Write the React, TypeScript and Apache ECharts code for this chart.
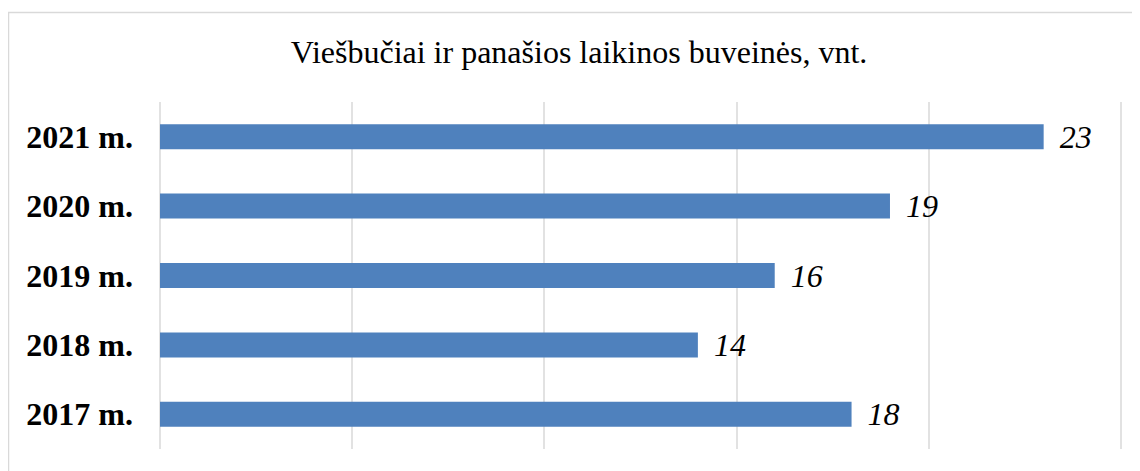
import React, { useEffect, useRef } from "react";
import * as echarts from "echarts";

const titleText = "Viešbučiai ir panašios laikinos buveinės, vnt.";
const categories = ["2017 m.", "2018 m.", "2019 m.", "2020 m.", "2021 m."];
const values = [18, 14, 16, 19, 23];
const axisMin = 0;
const axisMax = 25;
const axisStep = 5;

export default function App() {
  const ref = useRef<HTMLDivElement>(null);
  useEffect(() => {
    document.body.style.overflow = "hidden";
    const chart = echarts.init(ref.current!, null, { renderer: "svg" });
    chart.setOption({
      animation: false,
      backgroundColor: "#ffffff",
      graphic: [
        {
          type: "rect",
          shape: { x: 0.5, y: 4.5, width: 1300, height: 700 },
          style: { fill: "none", stroke: "#d9d9d9", lineWidth: 1.5 },
          silent: true,
        },
        {
          type: "text",
          x: 571,
          y: 43.5,
          style: {
            text: titleText,
            fontFamily: "Liberation Serif",
            fontSize: 32,
            fill: "#000000",
            align: "center",
            verticalAlign: "middle",
          },
        },
      ],
      grid: { left: 152, top: 94, width: 960.5, height: 347, containLabel: false },
      xAxis: {
        type: "value",
        min: axisMin,
        max: axisMax,
        interval: axisStep,
        axisLabel: { show: false },
        axisLine: { show: false },
        axisTick: { show: false },
        splitLine: { show: true, lineStyle: { color: "#d9d9d9", width: 1.5 } },
      },
      yAxis: {
        type: "category",
        data: categories,
        axisLine: { show: false },
        axisTick: { show: false },
        axisLabel: {
          fontFamily: "Liberation Serif",
          fontWeight: "bold",
          fontSize: 32,
          color: "#000000",
          margin: 27,
        },
      },
      series: [
        {
          type: "bar",
          data: values,
          barWidth: 25,
          itemStyle: { color: "#4f81bd" },
          label: {
            show: true,
            position: "right",
            distance: 16,
            fontFamily: "Liberation Serif",
            fontStyle: "italic",
            fontSize: 32,
            color: "#000000",
          },
        },
      ],
    });
    return () => chart.dispose();
  }, []);
  return <div ref={ref} style={{ width: 1132, height: 463 }} />;
}
